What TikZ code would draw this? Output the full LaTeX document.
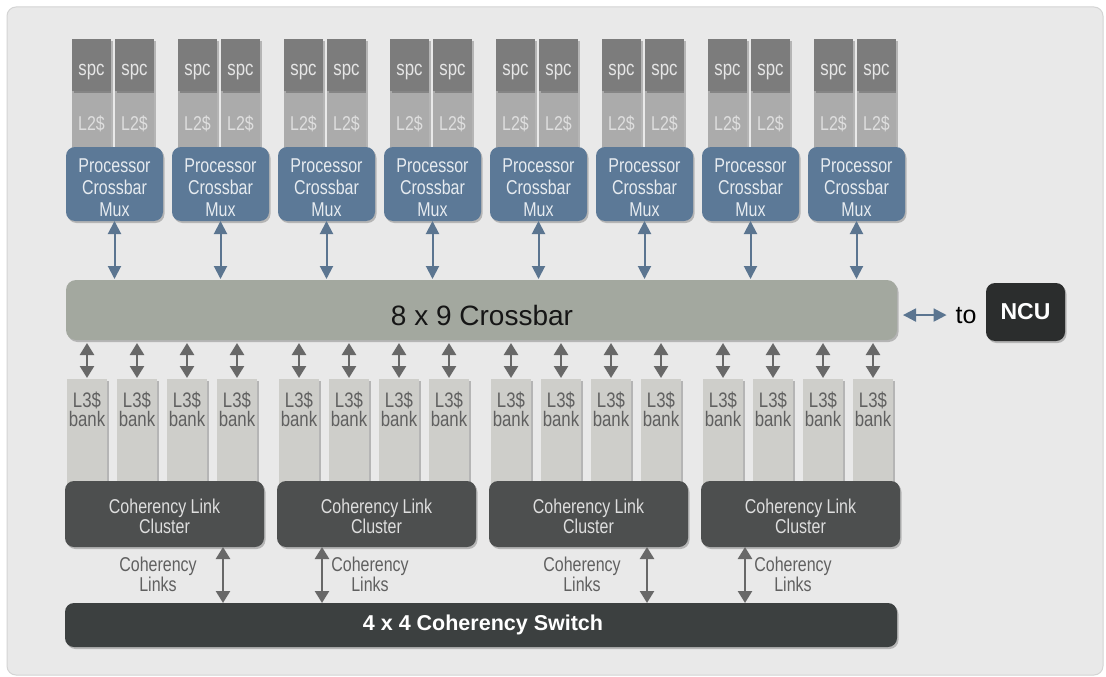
\documentclass[tikz,border=0pt]{standalone}
\usepackage{fontspec}
\setmainfont{Liberation Sans}
\newfontfamily\condfont{Liberation Sans}[FakeStretch=0.8]
\usetikzlibrary{arrows.meta,shadows}

\definecolor{pagewhite}{HTML}{FFFFFF}
\definecolor{framefill}{HTML}{E9E9E9}
\definecolor{frameline}{HTML}{D4D4D4}
\definecolor{spcgray}{HTML}{7C7C7C}
\definecolor{spctxt}{HTML}{E6E6E6}
\definecolor{ltwogray}{HTML}{ABABAB}
\definecolor{ltwotxt}{HTML}{DEDEDE}
\definecolor{muxblue}{HTML}{5C7997}
\definecolor{muxtxt}{HTML}{E6EBF0}
\definecolor{xbargreen}{HTML}{A3A89F}
\definecolor{xbartxt}{HTML}{161616}
\definecolor{arrowblue}{HTML}{5B7590}
\definecolor{ncublack}{HTML}{2B2D2D}
\definecolor{bankgray}{HTML}{CECECA}
\definecolor{banktxt}{HTML}{606060}
\definecolor{arrowgray}{HTML}{686868}
\definecolor{clustergray}{HTML}{4D4F4F}
\definecolor{clustertxt}{HTML}{DEDEDE}
\definecolor{switchgray}{HTML}{3C4040}

\begin{document}
\begin{tikzpicture}[x=1pt,y=-1pt,
  shadowed/.style={drop shadow={shadow xshift=1.5pt,shadow yshift=-2pt,opacity=.22,fill=black}},
  boxbase/.style={rectangle,inner sep=0pt,outer sep=0pt,anchor=north west,draw=none},
  spcbox/.style={boxbase,fill=spcgray,minimum width=39pt,minimum height=52pt,shadowed},
  ltwobox/.style={boxbase,fill=ltwogray,minimum width=39pt,minimum height=62pt,shadowed},
  muxbox/.style={boxbase,fill=muxblue,rounded corners=9pt,minimum width=97pt,minimum height=74pt,shadowed},
  xbarbox/.style={boxbase,fill=xbargreen,rounded corners=10pt,minimum width=831pt,minimum height=60pt,shadowed},
  ncubox/.style={boxbase,fill=ncublack,rounded corners=9pt,minimum width=79pt,minimum height=58pt,shadowed},
  bankbox/.style={boxbase,fill=bankgray,minimum width=40pt,minimum height=108pt,shadowed},
  clusterbox/.style={boxbase,fill=clustergray,rounded corners=9pt,minimum width=199pt,minimum height=66pt,shadowed},
  switchbox/.style={boxbase,fill=switchgray,rounded corners=9pt,minimum width=832pt,minimum height=44pt,shadowed},
  txt/.style={inner sep=0pt,outer sep=0pt,align=center},
  spctext/.style={txt,anchor=base,text=spctxt,font=\condfont\fontsize{21}{21}\selectfont},
  ltwotext/.style={txt,anchor=base,text=ltwotxt,font=\condfont\fontsize{20}{20}\selectfont},
  muxtext/.style={txt,text=muxtxt,font=\condfont\fontsize{20}{22}\selectfont},
  banktext/.style={txt,text=banktxt,font=\condfont\fontsize{21}{19}\selectfont},
  clustertext/.style={txt,text=clustertxt,font=\condfont\fontsize{20}{18.5}\selectfont},
  linktext/.style={txt,text=banktxt,font=\condfont\fontsize{20}{16}\selectfont},
  bluearrow/.style={draw=arrowblue,line width=2pt,{Triangle[width=13pt,length=13pt]}-{Triangle[width=13pt,length=13pt]}},
  grayarrow/.style={draw=arrowgray,line width=2.5pt,{Triangle[width=14pt,length=12pt]}-{Triangle[width=14pt,length=12pt]}}
]
% page and panel
\useasboundingbox (0,0) rectangle (1106,677);
\fill[pagewhite] (0,0) rectangle (1106,677);
\draw[frameline,fill=framefill,line width=1pt,rounded corners=9pt] (7,7) rectangle (1103,675);

% crossbar
\node[xbarbox] (xbar) at (66,280) {};
\node[txt,anchor=base,text=xbartxt,font=\fontsize{28}{28}\selectfont] (xbartitle) at (482,325) {8 x 9 Crossbar};

% eight processor groups: two cores with L2 slices feeding one mux
\foreach \i in {0,...,7}{
  \pgfmathsetmacro\ox{66+106*\i}
  \node[ltwobox] (la\i) at (\ox+6,91) {};
  \node[ltwobox] (lb\i) at (\ox+49,91) {};
  \node[spcbox] (sa\i) at (\ox+6,39) {};
  \node[spcbox] (sb\i) at (\ox+49,39) {};
  \node[spctext] (sat\i) at (\ox+25.5,76) {spc};
  \node[spctext] (sbt\i) at (\ox+68.5,76) {spc};
  \node[ltwotext] (lat\i) at (\ox+25.5,130) {L2\$};
  \node[ltwotext] (lbt\i) at (\ox+68.5,130) {L2\$};
  \node[muxbox] (m\i) at (\ox,147) {};
  \node[muxtext] (mt\i) at (\ox+48.5,188) {Processor\\Crossbar\\Mux};
  \draw[bluearrow,shorten >=1pt] (m\i.south) -- (m\i.south |- xbar.north);
}

% link to the NCU
\node[txt,anchor=base,text=black,font=\fontsize{25}{25}\selectfont] (tolbl) at (966,323) {to};
\node[ncubox] (ncu) at (986,283) {};
\node[txt,text=white,font=\bfseries\fontsize{23}{23}\selectfont] (ncutxt) at (ncu.center) {NCU};
\draw[bluearrow,shorten <=6pt,shorten >=9pt] (xbar.east |- tolbl.west) -- (tolbl.west);

% four L3 clusters, four banks each
\foreach \g in {0,...,3}{
  \foreach \j in {0,...,3}{
    \node[bankbox] (b\g\j) at (67+212*\g+50*\j,379) {};
    \node[banktext] (bt\g\j) at (87+212*\g+50*\j,409.5) {L3\$\\bank};
    \draw[grayarrow,shorten <=1pt,shorten >=3pt] (b\g\j.north) -- (b\g\j.north |- xbar.south);
  }
  \node[clusterbox] (c\g) at (65+212*\g,481) {};
  \node[clustertext] (ct\g) at (164.5+212*\g,516.5) {Coherency Link\\Cluster};
}

% coherency switch
\node[switchbox] (sw) at (65,603) {};
\node[txt,text=white,font=\bfseries\fontsize{21.5}{21.5}\selectfont] (swtxt) at (483,625) {4 x 4 Coherency Switch};

% coherency links between clusters and switch
\coordinate (k0) at (223,547);
\coordinate (k1) at (322,547);
\coordinate (k2) at (647,547);
\coordinate (k3) at (745,547);
\foreach \g in {0,...,3}{
  \draw[grayarrow] (k\g) -- (k\g |- sw.north);
}
\node[linktext] (lt0) at (158,574.5) {Coherency\\Links};
\node[linktext] (lt1) at (370,574.5) {Coherency\\Links};
\node[linktext] (lt2) at (582,574.5) {Coherency\\Links};
\node[linktext] (lt3) at (793,574.5) {Coherency\\Links};
\end{tikzpicture}
\end{document}
